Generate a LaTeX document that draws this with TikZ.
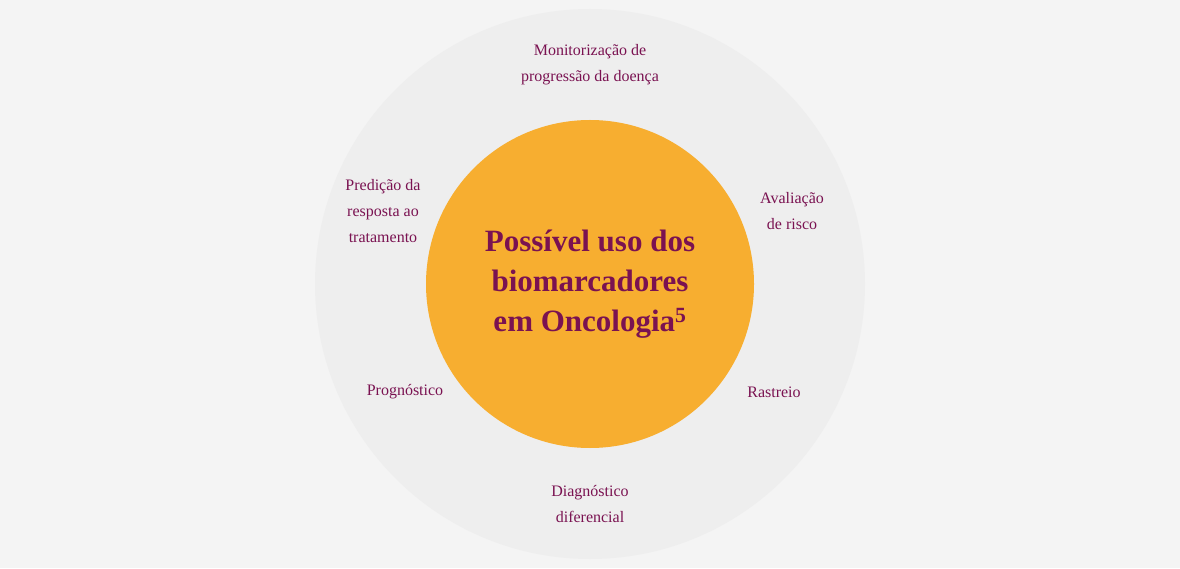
\documentclass[tikz,border=0pt]{standalone}
\usepackage{fontspec}
\setmainfont{Liberation Serif}
\definecolor{bg}{HTML}{F4F4F4}
\definecolor{ring}{HTML}{EEEEEE}
\definecolor{org}{HTML}{F7AE30}
\definecolor{pur}{HTML}{7A1251}
\begin{document}
\begin{tikzpicture}[x=1pt,y=1pt,
  lab/.style={text=pur,align=center,font=\fontsize{16}{26}\selectfont}]
\fill[bg] (0,0) rectangle (1180,568);
\useasboundingbox (0,0) rectangle (1180,568);
\node[circle,fill=ring,minimum size=550pt,inner sep=0] (outer) at (590,284) {};
\node[circle,fill=org,minimum size=328pt,inner sep=0,text=pur,align=center,
  font=\bfseries\fontsize{31}{40}\selectfont] (core) at (590,284)
  {Possível uso dos\\biomarcadores\\em Oncologia$^{\mathbf{5}}$};
\node[lab] (mon) at (590,503) {Monitorização de\\progressão da doença};
\node[lab] (aval) at (792,357) {Avaliação\\de risco};
\node[lab] (ras) at (774,176) {Rastreio};
\node[lab] (diag) at (590,64) {Diagnóstico\\diferencial};
\node[lab] (prog) at (405,176) {Prognóstico};
\node[lab] (pred) at (383,357) {Predição da\\resposta ao\\tratamento};
\end{tikzpicture}
\end{document}
